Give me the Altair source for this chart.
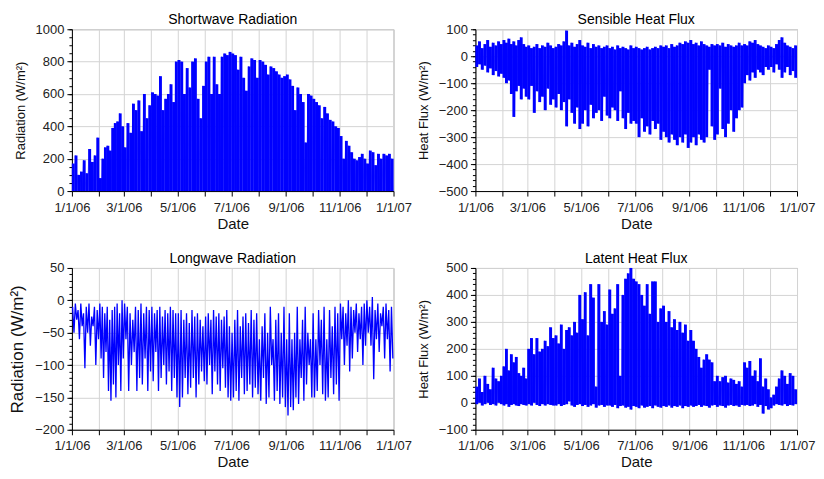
import altair as alt
import pandas as pd

FONT = "Liberation Sans"
BLUE = "#0000ff"

months = ["2006-01", "2006-02", "2006-03", "2006-04", "2006-05", "2006-06",
          "2006-07", "2006-08", "2006-09", "2006-10", "2006-11", "2006-12"]
x_ticks = [f"{y}-{m:02d}-01" for y, m in [(2006, i) for i in range(1, 13)] + [(2007, 1)]]

# Shortwave radiation: daily peaks (~3-day steps, 10 per month); night = 0
sw_peak = [
    170, 220, 100, 120, 190, 110, 260, 180, 220, 330,
    80, 200, 270, 280, 250, 390, 420, 430, 480, 400,
    270, 420, 360, 540, 500, 560, 370, 600, 450, 530,
    610, 600, 590, 710, 500, 570, 600, 660, 550, 800,
    810, 800, 600, 760, 640, 800, 820, 570, 450, 650,
    800, 830, 600, 830, 660, 600, 830, 850, 840, 860,
    850, 840, 750, 830, 700, 620, 770, 820, 810, 700,
    810, 800, 780, 720, 770, 760, 740, 720, 700, 710,
    720, 690, 650, 500, 640, 600, 550, 300, 600, 590,
    570, 550, 530, 450, 520, 480, 440, 430, 400, 390,
    340, 200, 310, 280, 240, 200, 190, 210, 230, 200,
    170, 250, 240, 160, 230, 200, 230, 220, 230, 200,
]
sw_night = 0

# Sensible heat flux: daily max / daily min
sh_hi = [
    40, 55, 30, 45, 60, 35, 50, 40, 55, 45,
    60, 50, 65, 45, 55, 40, 60, 70, 45, 35,
    40, 30, 35, 45, 30, 40, 35, 50, 40, 30,
    35, 45, 40, 55, 95, 40, 50, 35, 45, 60,
    40, 35, 50, 30, 45, 35, 40, 30, 35, 40,
    30, 35, 25, 40, 30, 35, 30, 25, 40, 30,
    35, 30, 25, 30, 35, 25, 30, 35, 30, 40,
    35, 40, 30, 45, 35, 40, 50, 45, 55, 50,
    60, 45, 50, 40, 55, 45, 40, 35, 45, 40,
    45, 40, 50, 35, 45, 40, 35, 40, 50, 40,
    45, 40, 55, 50, 60, 45, 40, 35, 30, 40,
    35, 30, 45, 60, 70, 50, 40, 35, 30, 40,
]
sh_lo = [
    -40, -30, -50, -35, -60, -45, -70, -55, -75, -65,
    -80, -100, -90, -140, -225, -130, -110, -160, -120, -150,
    -160, -110, -210, -130, -170, -150, -200, -120, -180, -160,
    -190, -140, -200, -170, -260, -160, -210, -250, -190, -270,
    -250, -200, -260, -180, -230, -210, -200, -240, -150, -220,
    -230, -190, -200, -240, -130, -230, -270, -210, -250, -240,
    -250, -300, -230, -280, -260, -290, -240, -270, -250, -310,
    -280, -300, -320, -290, -310, -330, -300, -320, -290, -340,
    -320, -300, -330, -290, -310, -320, -300, -50, -260, -310,
    -290, -120, -270, -300, -250, -200, -280, -230, -200, -190,
    -100, -70, -90, -60, -80, -50, -60, -70, -40, -50,
    -40, -60, -30, -50, -80, -60, -40, -70, -55, -80,
]

# Longwave radiation: daily max / daily min
lw_hi = [
    -10, -5, -15, -5, -20, -10, -5, -25, -10, -15,
    -5, -10, -20, -10, -30, -15, -10, -5, -20, 0,
    -5, -10, -20, -30, -10, -15, -5, -20, -10, -15,
    -10, -20, -15, -10, -25, -15, -20, -10, -15, -20,
    -20, -15, -30, -20, -35, -15, -25, -20, -30, -40,
    -25, -20, -30, -15, -25, -20, -30, -25, -15, -40,
    -50, -30, -15, -40, -25, -20, -35, -15, -30, -20,
    -60, -40, -20, -50, -10, -60, -30, -20, -50, -10,
    -60, -20, -60, -50, -10, -60, -30, -10, -50, -60,
    -20, -60, -15, -30, -10, -60, -15, -40, -10, -20,
    -5, -10, -20, 0, -10, -15, -5, -20, -10, -5,
    0, -10, 5, -15, -5, -20, -10, -5, -15, -10,
]
lw_lo = [
    -50, -30, -60, -40, -105, -50, -70, -40, -100, -60,
    -90, -120, -80, -140, -155, -130, -150, -100, -140, -90,
    -60, -140, -100, -80, -140, -120, -130, -90, -140, -110,
    -125, -80, -140, -120, -100, -130, -110, -140, -120, -150,
    -165, -150, -120, -145, -135, -120, -150, -130, -110, -125,
    -130, -100, -145, -110, -130, -140, -105, -135, -150, -155,
    -150, -140, -155, -120, -145, -140, -130, -150, -135, -145,
    -155, -120, -160, -150, -100, -155, -140, -160, -150, -165,
    -178, -165, -170, -150, -160, -120, -155, -130, -100, -150,
    -150, -140, -100, -145, -155, -150, -120, -145, -130, -155,
    -60, -100, -70, -110, -90, -50, -80, -60, -100, -70,
    -50, -70, -122, -60, -80, -40, -90, -60, -110, -90,
]

# Latent heat flux: daily max / daily min
lh_hi = [
    60, 90, 40, 100, 70, 50, 130, 90, 80, 100,
    135, 200, 120, 180, 150, 170, 110, 100, 130, 90,
    200, 240, 180, 240, 190, 200, 230, 210, 280, 240,
    250, 220, 290, 200, 270, 280, 250, 300, 260, 400,
    310, 410, 250, 440, 390, 60, 440, 300, 340, 290,
    420, 330, 350, 440, 100, 400, 460, 480, 500, 460,
    450, 440, 400, 360, 440, 330, 450, 450, 300, 350,
    360, 300, 340, 280, 310, 270, 300, 260, 290, 230,
    270, 230, 200, 170, 130, 160, 180, 160, 150, 80,
    100, 80, 95, 100, 75, 90, 85, 70, 80, 60,
    150, 130, 155, 100, 120, 80, 165, 60, 90, 50,
    20, 30, 60, 90, 120, 100, 70, 110, 100, 50,
]
lh_lo = [
    -5, 0, -10, -5, 0, -8, -5, -10, 0, -5,
    -10, -5, -15, -8, -5, -10, -12, -5, -8, -10,
    -5, -10, 0, -8, -12, -5, -10, -5, -8, -10,
    -10, -5, -12, -8, -5, 5, -10, -15, -8, -5,
    -12, -8, -15, -10, -5, -18, -10, -8, -15, -10,
    -10, -15, -8, -20, -12, -10, -18, -15, -25, -12,
    -15, -20, -10, -18, -15, -12, -20, -10, -15, -18,
    -12, -15, -10, -18, -12, -15, -10, -20, -12, -15,
    -10, -15, -12, -8, -15, -10, -12, -18, -10, -8,
    -15, -10, -12, -18, -10, -8, -12, -10, -15, -8,
    -10, -8, -12, -10, -5, -15, -8, -40, -12, -25,
    -20, -10, -5, -8, -10, -5, -12, -8, -10, -5,
]


def iso(ts):
    return ts.strftime("%Y-%m-%dT%H:%M:%SZ")


def frames(hi, lo):
    """Step frame (one row per step) and zig-zag frame (max then min)."""
    env, zig = [], []
    for mi, m in enumerate(months):
        start = pd.Timestamp(m + "-01")
        end = pd.Timestamp(months[mi + 1] + "-01") if mi < 11 else pd.Timestamp("2007-01-01")
        span = (end - start) / 10
        for k in range(10):
            i = mi * 10 + k
            lo_v = lo[i] if isinstance(lo, list) else lo
            env.append({"t": iso(start + span * (k + 0.5)), "hi": hi[i], "lo": lo_v})
            zig.append({"t": iso(start + span * (k + 0.25)), "v": hi[i]})
            zig.append({"t": iso(start + span * (k + 0.75)), "v": lo_v})
    return pd.DataFrame(env), pd.DataFrame(zig)


def panel(title, ytitle, hi, lo, domain, major, minor, solid=True, ytitle_size=13):
    env, zig = frames(hi, lo)
    xs = alt.Scale(type="utc", domain=[x_ticks[0], x_ticks[-1]], nice=False)
    x_axis = alt.Axis(
        values=x_ticks, format="%-m/%-d/%y",
        labelExpr="utcmonth(datum.value) % 2 == 0 ? utcFormat(datum.value, '%-m/%-d/%y') : ''",
        title="Date", grid=True, tickSize=5, labelFontSize=13, titleFontSize=15,
        titleFontWeight="normal", labelPadding=5, titlePadding=2,
        labelFlush=False, labelOverlap=False)
    ys = alt.Scale(domain=domain, nice=False, zero=False)
    y_axis = alt.Axis(
        values=major, format="d", title=ytitle, grid=True, tickSize=5, labelFontSize=13,
        titleFontSize=ytitle_size, titleFontWeight="normal", labelPadding=3,
        titlePadding=8, orient="left")
    layers = []
    if solid:
        layers.append(alt.Chart(env).mark_rule(color=BLUE, strokeWidth=2.9).encode(
            x=alt.X("t:T", scale=xs, axis=x_axis),
            y=alt.Y("hi:Q", scale=ys, axis=y_axis),
            y2="lo:Q"))
        layers.append(alt.Chart(zig).mark_line(color=BLUE, strokeWidth=0.8, opacity=0.6).encode(
            x=alt.X("t:T", scale=xs, axis=None),
            y=alt.Y("v:Q", scale=ys, axis=None)))
    else:
        layers.append(alt.Chart(zig).mark_line(color=BLUE, strokeWidth=1.3).encode(
            x=alt.X("t:T", scale=xs, axis=x_axis),
            y=alt.Y("v:Q", scale=ys, axis=y_axis)))
    minor_axis = alt.Chart(zig).mark_line(opacity=0).encode(
        x=alt.X("t:T", scale=xs, axis=None),
        y=alt.Y("v:Q", scale=ys, axis=alt.Axis(
            values=minor, orient="left", labels=False, title=None, grid=False,
            domain=False, tickSize=3)))
    layers.append(minor_axis)
    return alt.layer(*layers).resolve_axis(y="independent", x="independent").properties(
        width=322, height=162,
        title=alt.TitleParams(title, fontSize=14, fontWeight="normal", font=FONT, offset=-4))


def rng(a, b, s):
    return list(range(a, b + 1, s))


p1 = panel("Shortwave Radiation", "Radiation (W/m²)", sw_peak, sw_night,
           [0, 1000], rng(0, 1000, 200), rng(0, 1000, 50))
p2 = panel("Sensible Heat Flux", "Heat Flux (W/m²)", sh_hi, sh_lo,
           [-500, 100], rng(-500, 100, 100), rng(-500, 100, 20))
p3 = panel("Longwave Radiation", "Radiation (W/m²)", lw_hi, lw_lo,
           [-200, 50], rng(-200, 50, 50), rng(-200, 50, 10), solid=False, ytitle_size=17)
p4 = panel("Latent Heat Flux", "Heat Flux (W/m²)", lh_hi, lh_lo,
           [-100, 500], rng(-100, 500, 100), rng(-100, 500, 20))

chart = alt.vconcat(
    alt.hconcat(p1, p2, spacing=4),
    alt.hconcat(p3, p4, spacing=4),
    spacing=19,
).properties(
    padding={"left": 0, "top": 4, "right": 0, "bottom": 0}
).configure(font=FONT).configure_view(
    stroke="#aaaaaa", strokeWidth=1
).configure_axis(
    domainColor="#000000", tickColor="#000000", labelColor="#222222",
    titleColor="#111111", gridColor="#d4d4d4", labelFont=FONT, titleFont=FONT
)

chart.save("out.html", embed_options={"renderer": "svg", "actions": False})
